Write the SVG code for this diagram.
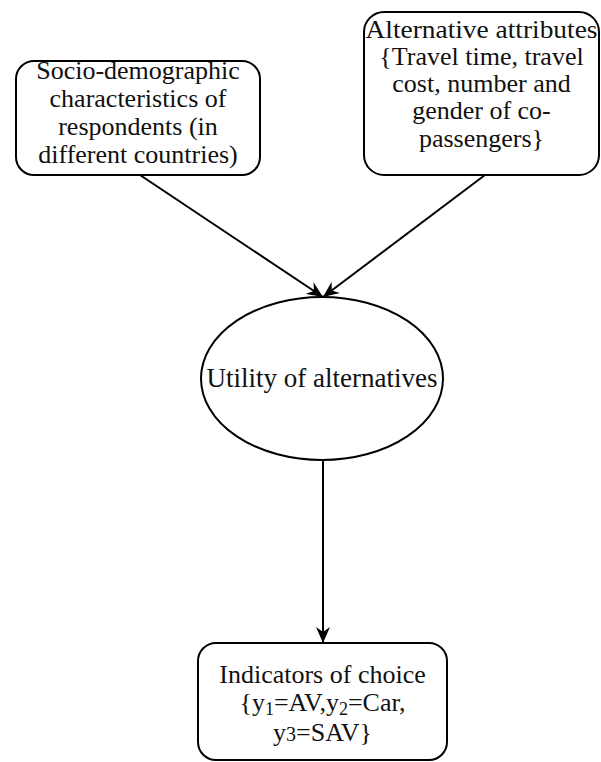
<svg xmlns="http://www.w3.org/2000/svg" width="601" height="762" viewBox="0 0 601 762">
<defs>
<style>
.box{fill:#fff;stroke:#000;stroke-width:2}
.t{font-family:"Liberation Serif","Times New Roman",serif;font-size:26px;fill:#111;text-anchor:middle}
.c{fill:none;stroke:#000;stroke-width:2}
</style>
<marker id="ah" viewBox="0 0 16 14" refX="16" refY="7" markerWidth="16" markerHeight="14" markerUnits="userSpaceOnUse" orient="auto">
<path d="M0,0 L16,7 L0,14 L5,7 z" fill="#000"/>
</marker>
</defs>
<rect width="601" height="762" fill="#fff"/>
<g id="connectors">
<line class="c" x1="140" y1="175" x2="323" y2="297" marker-end="url(#ah)"/>
<line class="c" x1="485" y1="175" x2="323" y2="297" marker-end="url(#ah)"/>
<line class="c" x1="323" y1="460" x2="323" y2="643" marker-end="url(#ah)"/>
</g>
<g id="socio">
<rect class="box" x="16" y="61" width="244" height="114" rx="18"/>
<text class="t" x="138" y="79">Socio-demographic</text>
<text class="t" x="138" y="107">characteristics of</text>
<text class="t" x="138" y="135">respondents (in</text>
<text class="t" x="138" y="163">different countries)</text>
</g>
<g id="attributes">
<rect class="box" x="364" y="12" width="235" height="163" rx="20"/>
<text class="t" x="481.5" y="38" textLength="232" lengthAdjust="spacingAndGlyphs">Alternative attributes</text>
<text class="t" x="481.5" y="65">{Travel time, travel</text>
<text class="t" x="481.5" y="92">cost, number and</text>
<text class="t" x="481.5" y="119">gender of co-</text>
<text class="t" x="481.5" y="147">passengers}</text>
</g>
<g id="utility">
<ellipse class="box" cx="322" cy="378.5" rx="121" ry="81.5"/>
<text class="t" x="322" y="387" style="font-size:27px">Utility of alternatives</text>
</g>
<g id="indicators">
<rect class="box" x="198" y="643" width="249" height="117" rx="18"/>
<text class="t" x="322.5" y="683">Indicators of choice</text>
<text class="t" x="322.5" y="711">{y<tspan dy="4" font-size="18">1</tspan><tspan dy="-4">=AV,y</tspan><tspan dy="4" font-size="18">2</tspan><tspan dy="-4">=Car,</tspan></text>
<text class="t" x="322.5" y="741">y<tspan font-size="20">3</tspan>=SAV}</text>
</g>
</svg>
